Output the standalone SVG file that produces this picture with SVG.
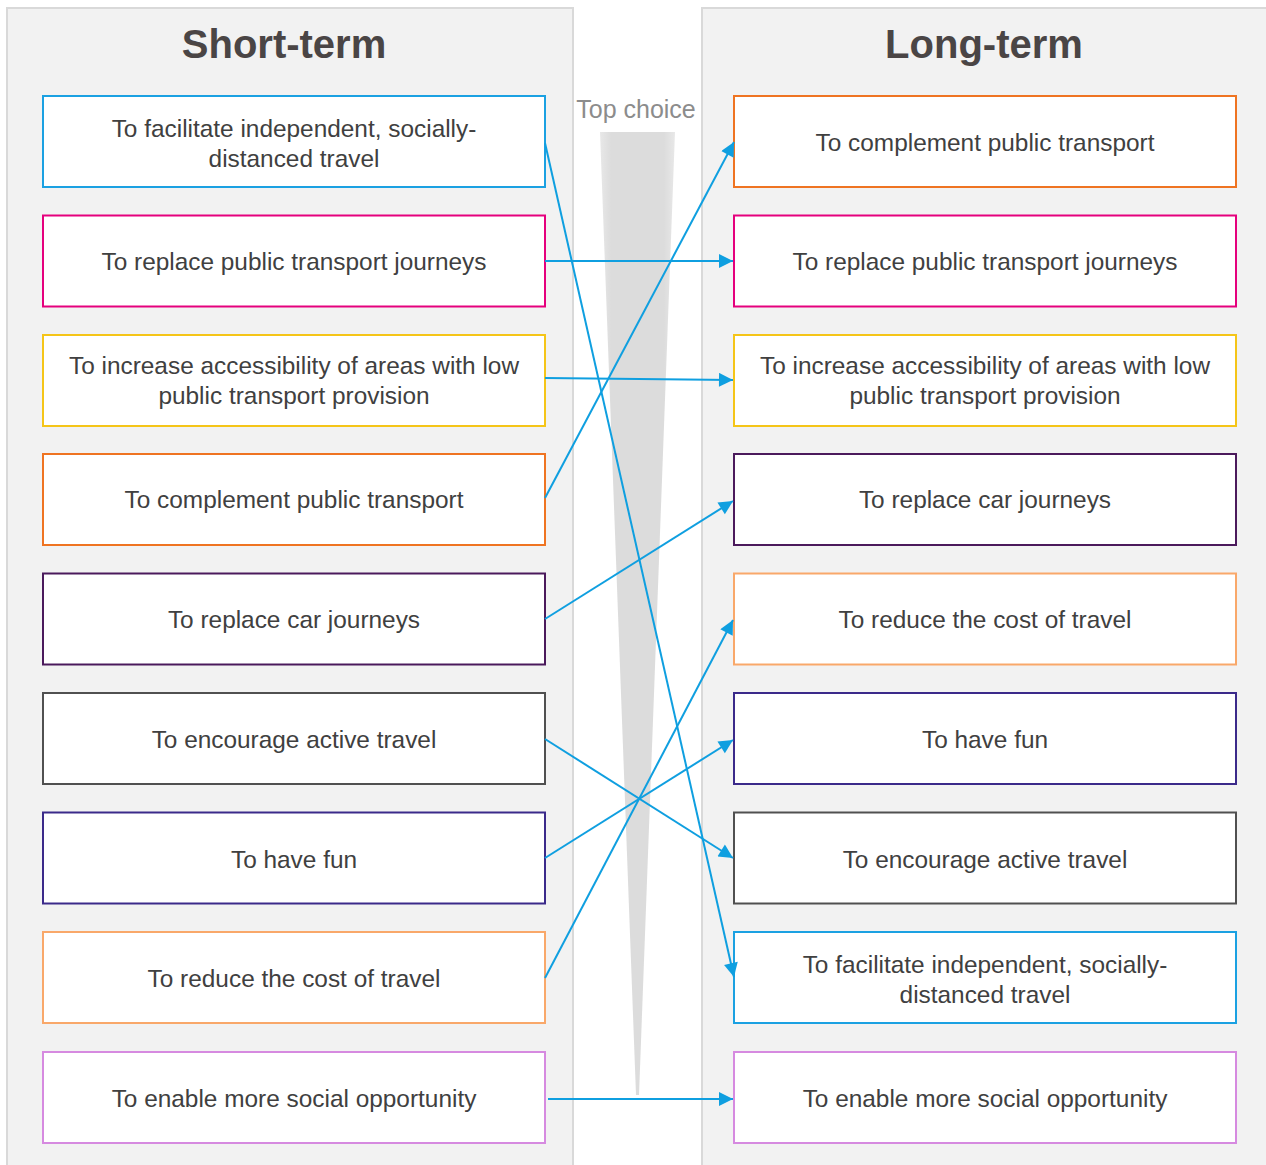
<svg xmlns="http://www.w3.org/2000/svg" width="1266" height="1165" viewBox="0 0 1266 1165">
<style>
.panel{fill:#f2f2f2;stroke:#d9d9d9;stroke-width:2}
.box{fill:#fff;stroke-width:2}
.t{font-family:"Liberation Sans",Arial,sans-serif;font-size:24.4px;fill:#404040;text-anchor:middle}
.h{font-family:"Liberation Sans",Arial,sans-serif;font-size:40px;font-weight:bold;fill:#4a4545;text-anchor:middle}
.c{stroke:#0f9fe0;stroke-width:2;fill:none;marker-end:url(#ah)}
</style>
<defs>
<marker id="ah" viewBox="0 0 10 10" refX="10" refY="5" markerWidth="8" markerHeight="7" markerUnits="strokeWidth" orient="auto">
<path d="M0,0 L10,5 L0,10 z" fill="#0f9fe0"/>
</marker>
<linearGradient id="tri" x1="0" y1="0" x2="1" y2="0">
<stop offset="0" stop-color="#e8e8e8"/>
<stop offset="0.15" stop-color="#dcdcdc"/>
<stop offset="0.85" stop-color="#dcdcdc"/>
<stop offset="1" stop-color="#e8e8e8"/>
</linearGradient>
</defs>
<rect width="1266" height="1165" fill="#fff"/>
<rect class="panel" x="7" y="8" width="566" height="1170"/>
<rect class="panel" x="702" y="8" width="580" height="1170"/>
<text class="h" x="284" y="58">Short-term</text>
<text class="h" x="984" y="58">Long-term</text>
<path d="M600,132 L675,132 L639,1095 L636,1095 Z" fill="url(#tri)"/>
<text x="636" y="118" font-family="Liberation Sans,Arial,sans-serif" font-size="25" fill="#8c8c8c" text-anchor="middle">Top choice</text>

<g id="L1"><rect class="box" x="43" y="96" width="502" height="91" stroke="#1ba1e2"/><text class="t" x="294" y="137">To facilitate independent, socially-</text><text class="t" x="294" y="167">distanced travel</text></g>
<g id="L2"><rect class="box" x="43" y="215.5" width="502" height="91" stroke="#e5007d"/><text class="t" x="294" y="270">To replace public transport journeys</text></g>
<g id="L3"><rect class="box" x="43" y="335" width="502" height="91" stroke="#f5c518"/><text class="t" x="294" y="374">To increase accessibility of areas with low</text><text class="t" x="294" y="404">public transport provision</text></g>
<g id="L4"><rect class="box" x="43" y="454" width="502" height="91" stroke="#ef7422"/><text class="t" x="294" y="508">To complement public transport</text></g>
<g id="L5"><rect class="box" x="43" y="573.5" width="502" height="91" stroke="#4b1a5c"/><text class="t" x="294" y="628">To replace car journeys</text></g>
<g id="L6"><rect class="box" x="43" y="693" width="502" height="91" stroke="#505050"/><text class="t" x="294" y="748">To encourage active travel</text></g>
<g id="L7"><rect class="box" x="43" y="812.5" width="502" height="91" stroke="#3b2a8a"/><text class="t" x="294" y="868">To have fun</text></g>
<g id="L8"><rect class="box" x="43" y="932" width="502" height="91" stroke="#f9a86a"/><text class="t" x="294" y="987">To reduce the cost of travel</text></g>
<g id="L9"><rect class="box" x="43" y="1052" width="502" height="91" stroke="#d68ae0"/><text class="t" x="294" y="1107">To enable more social opportunity</text></g>

<g id="R1"><rect class="box" x="734" y="96" width="502" height="91" stroke="#ef7422"/><text class="t" x="985" y="151">To complement public transport</text></g>
<g id="R2"><rect class="box" x="734" y="215.5" width="502" height="91" stroke="#e5007d"/><text class="t" x="985" y="270">To replace public transport journeys</text></g>
<g id="R3"><rect class="box" x="734" y="335" width="502" height="91" stroke="#f5c518"/><text class="t" x="985" y="374">To increase accessibility of areas with low</text><text class="t" x="985" y="404">public transport provision</text></g>
<g id="R4"><rect class="box" x="734" y="454" width="502" height="91" stroke="#4b1a5c"/><text class="t" x="985" y="508">To replace car journeys</text></g>
<g id="R5"><rect class="box" x="734" y="573.5" width="502" height="91" stroke="#f9a86a"/><text class="t" x="985" y="628">To reduce the cost of travel</text></g>
<g id="R6"><rect class="box" x="734" y="693" width="502" height="91" stroke="#3b2a8a"/><text class="t" x="985" y="748">To have fun</text></g>
<g id="R7"><rect class="box" x="734" y="812.5" width="502" height="91" stroke="#505050"/><text class="t" x="985" y="868">To encourage active travel</text></g>
<g id="R8"><rect class="box" x="734" y="932" width="502" height="91" stroke="#1ba1e2"/><text class="t" x="985" y="973">To facilitate independent, socially-</text><text class="t" x="985" y="1003">distanced travel</text></g>
<g id="R9"><rect class="box" x="734" y="1052" width="502" height="91" stroke="#d68ae0"/><text class="t" x="985" y="1107">To enable more social opportunity</text></g>

<g id="connectors">
<line class="c" x1="545" y1="143" x2="734" y2="977"/>
<line class="c" x1="545" y1="261" x2="733" y2="261"/>
<line class="c" x1="545" y1="378" x2="733" y2="380"/>
<line class="c" x1="545" y1="498" x2="734" y2="142"/>
<line class="c" x1="545" y1="619" x2="733" y2="501"/>
<line class="c" x1="545" y1="739" x2="733" y2="858"/>
<line class="c" x1="545" y1="858" x2="733" y2="740"/>
<line class="c" x1="545" y1="978" x2="733" y2="620"/>
<line class="c" x1="548" y1="1099" x2="733" y2="1099"/>
</g>
</svg>
